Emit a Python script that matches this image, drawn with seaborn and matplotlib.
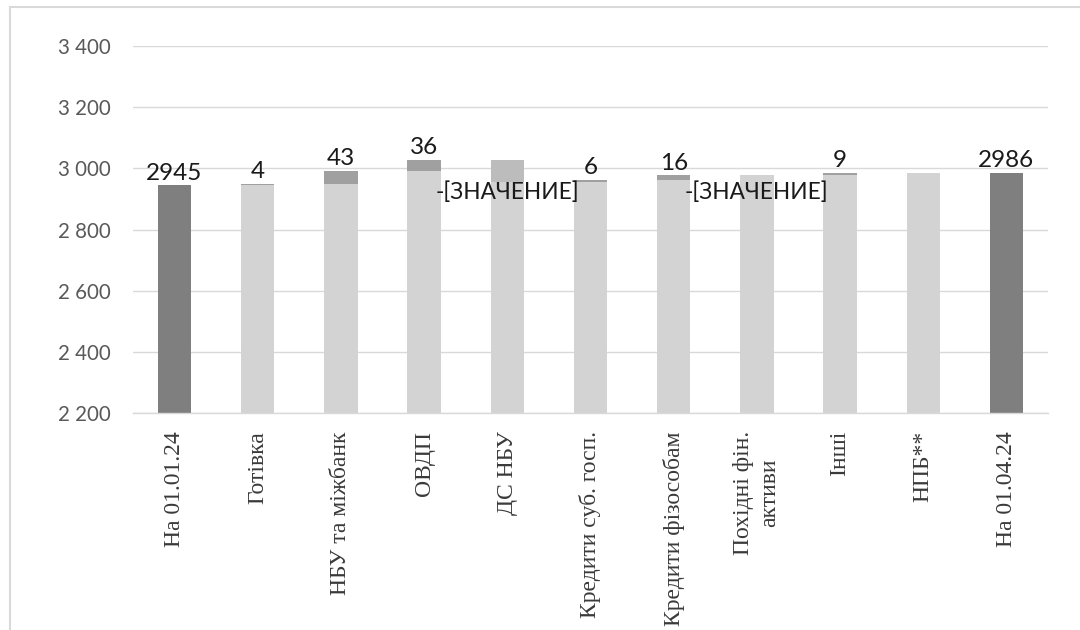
import numpy as np
import pandas as pd
import matplotlib
matplotlib.use("Agg")
import matplotlib.pyplot as plt
from matplotlib.ticker import FuncFormatter, MultipleLocator
from matplotlib.lines import Line2D
import seaborn as sns

# Waterfall of the balance between two reporting dates
categories = ["На 01.01.24", "Готівка", "НБУ та міжбанк", "ОВДП", "ДС НБУ",
              "Кредити суб. госп.", "Кредити фізособам", "Похідні фін.\nактиви",
              "Інші", "НПБ**", "На 01.04.24"]
opening_total = 2945
changes = [4, 43, 36, -72, 6, 16, -1, 9, 0]
closing_total = 2986
change_labels = ["4", "43", "36", "-[ЗНАЧЕНИЕ]", "6", "16", "-[ЗНАЧЕНИЕ]", "9", ""]
y_ticks = [2200, 2400, 2600, 2800, 3000, 3200, 3400]

# Running levels before and after each change
after = opening_total + np.cumsum(changes)
before = np.concatenate([[opening_total], after[:-1]])
upper = [opening_total] + list(np.maximum(before, after)) + [closing_total]
lower = [0] + list(np.minimum(before, after)) + [0]

TOTAL_C, UP_C, DOWN_C, BASE_C = "#7f7f7f", "#a0a0a0", "#bcbcbc", "#d3d3d3"
upper_colors = [TOTAL_C] + [UP_C if c > 0 else (DOWN_C if c < 0 else BASE_C)
                            for c in changes] + [TOTAL_C]
lower_colors = [TOTAL_C] + [BASE_C] * len(changes) + [TOTAL_C]

df = pd.DataFrame({"cat": categories, "upper": upper, "lower": lower})

sns.set_theme(style="white")
plt.rcParams["font.family"] = ["Lato", "DejaVu Sans"]

fig = plt.figure(figsize=(10.8, 6.3), dpi=100)
ax = fig.add_axes([0.1231, 0.3444, 0.8473, 0.5826])

sns.barplot(data=df, x="cat", y="upper", hue="cat",
            palette=dict(zip(categories, upper_colors)), legend=False,
            width=0.4, saturation=1, linewidth=0, ax=ax)
sns.barplot(data=df, x="cat", y="lower", hue="cat",
            palette=dict(zip(categories, lower_colors)), legend=False,
            width=0.4, saturation=1, linewidth=0, ax=ax)

ax.set_ylim(y_ticks[0], y_ticks[-1])
ax.set_xlim(-0.5, len(categories) - 0.5)
ax.yaxis.set_major_locator(MultipleLocator(200))
ax.yaxis.set_major_formatter(FuncFormatter(lambda v, p: f"{v:,.0f}".replace(",", " ")))
ax.set_axisbelow(True)
ax.yaxis.grid(True, color="#d9d9d9", linewidth=1)
ax.xaxis.grid(False)
for side in ["top", "right", "left"]:
    ax.spines[side].set_visible(False)
ax.spines["bottom"].set_color("#d9d9d9")
ax.spines["bottom"].set_linewidth(1)
ax.set_xlabel("")
ax.set_ylabel("")

ax.tick_params(axis="y", length=0, pad=16, labelsize=14.8, labelcolor="#595959")
ax.tick_params(axis="x", length=0, pad=13)
ax.set_xticks(range(len(categories)))
ax.set_xticklabels(categories, rotation=90, family="Liberation Serif",
                   fontsize=17, color="#3a3a3a", ha="center", va="top",
                   linespacing=1.3)

# Value labels
num_font = dict(fontsize=17.5, color="#1a1a1a", ha="center")
neg_font = dict(fontsize=16.3, color="#1a1a1a", ha="center")
ax.annotate(f"{opening_total}", (0, opening_total), xytext=(0, 4),
            textcoords="offset points", va="baseline", **num_font)
ax.annotate(f"{closing_total}", (len(categories) - 1, closing_total), xytext=(0, 4),
            textcoords="offset points", va="baseline", **num_font)
for i, (c, txt) in enumerate(zip(changes, change_labels), start=1):
    if not txt:
        continue
    if c > 0:
        ax.annotate(txt, (i, upper[i]), xytext=(0, 4), textcoords="offset points",
                    va="baseline", **num_font)
    else:
        ax.text(i, 2921, txt, va="center", **neg_font)

# Light frame around the chart area
fig.add_artist(Line2D([10 / 1080, 1], [1 - 7 / 630, 1 - 7 / 630],
                      transform=fig.transFigure, color="#d9d9d9", lw=1.5))
fig.add_artist(Line2D([10 / 1080, 10 / 1080], [0, 1 - 7 / 630],
                      transform=fig.transFigure, color="#d9d9d9", lw=1.5))

fig.savefig("out.png", dpi=100, facecolor="white")
